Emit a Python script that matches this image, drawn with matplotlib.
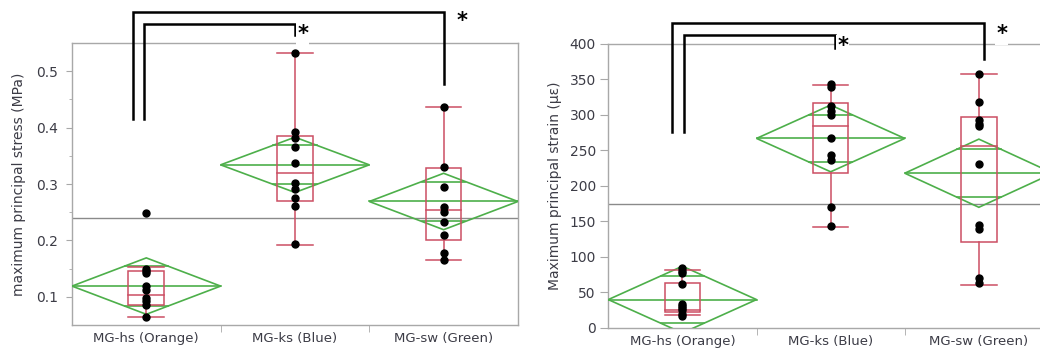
import numpy as np
import matplotlib
matplotlib.use("Agg")
import matplotlib.pyplot as plt
from matplotlib.patches import Polygon, Rectangle

plt.rcParams['font.family'] = ['DejaVu Sans']

groups = ['MG-hs (Orange)', 'MG-ks (Blue)', 'MG-sw (Green)']

# maximum principal stress (MPa)
stress_pts = [
    [0.248, 0.150, 0.146, 0.142, 0.120, 0.112, 0.098, 0.092, 0.085, 0.065],
    [0.533, 0.393, 0.381, 0.366, 0.337, 0.302, 0.292, 0.275, 0.261, 0.193],
    [0.437, 0.331, 0.294, 0.260, 0.250, 0.232, 0.210, 0.178, 0.166],
]
stress_mean = [0.119, 0.334, 0.269]
stress_ci = [0.050, 0.049, 0.050]
stress_q1 = [0.085, 0.270, 0.201]
stress_med = [0.104, 0.319, 0.254]
stress_q3 = [0.146, 0.385, 0.329]
stress_lo = [0.065, 0.191, 0.166]
stress_hi = [0.153, 0.533, 0.437]
stress_grand = 0.240

# maximum principal strain (micro strain)
strain_pts = [
    [84, 80, 77, 62, 34, 31, 28, 25, 20, 17],
    [343, 340, 312, 305, 300, 268, 244, 237, 171, 143],
    [358, 319, 293, 288, 285, 231, 145, 139, 70, 63],
]
strain_mean = [40, 267, 218]
strain_ci = [47, 47, 48]
strain_q1 = [22, 219, 121]
strain_med = [26, 285, 256]
strain_q3 = [64, 317, 297]
strain_lo = [18, 142, 61]
strain_hi = [81, 342, 358]
strain_grand = 175

RED = '#cc4e63'
GREEN = '#4daf4a'
GRAY = '#a8a8a8'
TXT = '#3c3c46'
BOXW = 0.24


def draw_panel(ax, pts, mean, ci, q1, med, q3, lo, hi, grand):
    ax.axhline(grand, color='#8a8a8a', lw=1.0, zorder=1)
    for i in range(len(groups)):
        m, c = mean[i], ci[i]
        # means diamond
        ax.add_patch(Polygon([[i - 0.5, m], [i, m + c], [i + 0.5, m], [i, m - c]],
                             closed=True, fill=False, ec=GREEN, lw=1.2, zorder=3))
        ax.plot([i - 0.5, i + 0.5], [m, m], color=GREEN, lw=1.2, zorder=3)
        d = c / np.sqrt(2)
        hw = 0.5 * (1 - 1 / np.sqrt(2))
        for y in (m + d, m - d):
            ax.plot([i - hw, i + hw], [y, y], color=GREEN, lw=1.2, zorder=3)
        # box + whiskers
        ax.add_patch(Rectangle((i - BOXW / 2, q1[i]), BOXW, q3[i] - q1[i],
                               fill=False, ec=RED, lw=1.1, zorder=4))
        ax.plot([i - BOXW / 2, i + BOXW / 2], [med[i], med[i]], color=RED, lw=1.1, zorder=4)
        ax.plot([i, i], [lo[i], q1[i]], color=RED, lw=1.1, zorder=4)
        ax.plot([i, i], [q3[i], hi[i]], color=RED, lw=1.1, zorder=4)
        for y in (lo[i], hi[i]):
            ax.plot([i - BOXW / 2, i + BOXW / 2], [y, y], color=RED, lw=1.1, zorder=4)
        ax.plot([i] * len(pts[i]), pts[i], 'o', color='black', ms=5, zorder=5)

    ax.set_xlim(-0.5, 2.5)
    ax.set_xticks(range(len(groups)))
    ax.set_xticklabels(groups, fontsize=9.5, color=TXT)
    ax.set_xticks([0.5, 1.5], minor=True)
    ax.tick_params(axis='x', which='major', length=0, pad=5)
    ax.tick_params(axis='x', which='minor', length=5, color=GRAY)
    ax.tick_params(axis='y', which='both', color=GRAY, labelcolor=TXT, labelsize=10)
    for s in ax.spines.values():
        s.set_color(GRAY)
        s.set_linewidth(1.0)


def bracket(ax, x0, x1, ytop, ylo0, ylo1):
    ax.plot([x0, x0, x1, x1], [ylo0, ytop, ytop, ylo1], color='black', lw=1.8,
            clip_on=False, zorder=6, solid_joinstyle='miter')


def star(ax, x, y):
    ax.text(x, y, '*', fontsize=15, fontweight='bold', ha='center', va='center',
            clip_on=False, zorder=7, bbox=dict(fc='white', ec='none', pad=0.8))


fig = plt.figure(figsize=(10.4, 3.5), dpi=100)

ax1 = fig.add_axes([0.0692, 0.0714, 0.4288, 0.8057])
draw_panel(ax1, stress_pts, stress_mean, stress_ci, stress_q1, stress_med, stress_q3,
           stress_lo, stress_hi, stress_grand)
ax1.set_ylim(0.05, 0.55)
ax1.set_yticks([0.1, 0.2, 0.3, 0.4, 0.5])
ax1.set_yticks([0.15, 0.25, 0.35, 0.45], minor=True)
ax1.tick_params(axis='y', which='major', length=4, pad=6)
ax1.tick_params(axis='y', which='minor', length=2)
ax1.set_ylabel('maximum principal stress (MPa)', fontsize=10, color=TXT, labelpad=7)
bracket(ax1, -0.09, 2.0, 0.605, 0.415, 0.478)
bracket(ax1, -0.016, 1.0, 0.583, 0.415, 0.564)
star(ax1, 1.053, 0.566)
star(ax1, 2.123, 0.589)

ax2 = fig.add_axes([0.5849, 0.0629, 0.4276, 0.8114])
draw_panel(ax2, strain_pts, strain_mean, strain_ci, strain_q1, strain_med, strain_q3,
           strain_lo, strain_hi, strain_grand)
ax2.set_ylim(0, 400)
ax2.set_yticks(range(0, 401, 50))
ax2.tick_params(axis='y', which='major', length=6, pad=3)
ax2.set_ylabel('Maximum principal strain (\u03bc\u03b5)', fontsize=10, color=TXT, labelpad=5)
bracket(ax2, -0.068, 2.035, 429, 276, 379)
bracket(ax2, 0.0125, 1.029, 412, 276, 395)
star(ax2, 1.083, 397)
star(ax2, 2.154, 414)

fig.savefig('out.png', dpi=100)
